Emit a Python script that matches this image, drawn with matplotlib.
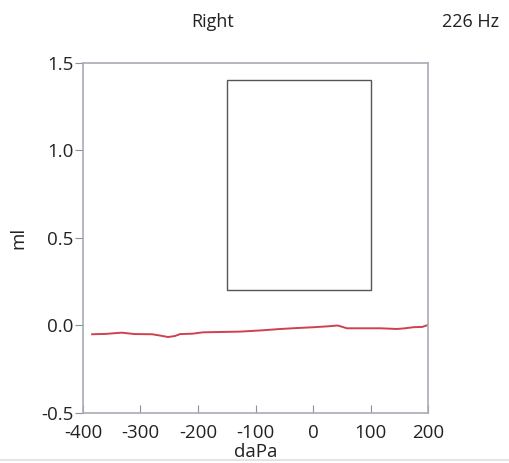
import numpy as np
import matplotlib

matplotlib.use('Agg')
import matplotlib.pyplot as plt
from matplotlib.patches import Rectangle

plt.rcParams['font.family'] = ['Open Sans', 'DejaVu Sans']
plt.rcParams['axes.unicode_minus'] = False

# tympanogram curve
pressure = [-384, -360, -333, -310, -280, -265, -252, -240, -231, -210, -191, -160,
            -127, -90, -57, -30, 0, 25, 43, 59, 90, 117, 146, 160, 174, 190, 200]
volume = [-0.050, -0.048, -0.041, -0.049, -0.050, -0.058, -0.066, -0.060, -0.049, -0.047,
          -0.039, -0.037, -0.035, -0.028, -0.020, -0.015, -0.010, -0.005, 0.000, -0.016,
          -0.016, -0.016, -0.020, -0.016, -0.010, -0.008, 0.003]

# normal region box
box_x = [-150, 100]
box_y = [0.2, 1.4]

x_ticks = [-400, -300, -200, -100, 0, 100, 200]
y_ticks = [-0.5, 0.0, 0.5, 1.0, 1.5]

fig = plt.figure(figsize=(5.09, 4.63), dpi=100)
ax = fig.add_axes([0.163, 0.108, 0.678, 0.756])

ax.plot(pressure, volume, color='#d0404f', linewidth=1.4)
ax.add_patch(Rectangle((box_x[0], box_y[0]), box_x[1] - box_x[0], box_y[1] - box_y[0],
                       fill=False, edgecolor='#555555', linewidth=1.0))

ax.set_xlim(-400, 200)
ax.set_ylim(-0.5, 1.5)
ax.set_xticks(x_ticks)
ax.set_yticks(y_ticks)
ax.set_yticklabels([f"{v:.1f}" for v in y_ticks])

for s in ax.spines.values():
    s.set_color('#a8acb4')
    s.set_linewidth(1.2)

ax.tick_params(axis='x', direction='in', length=6, color='#8890a0', labelsize=13.5,
               labelcolor='#222222', pad=8)
ax.tick_params(axis='y', direction='out', length=6, color='#8890a0', labelsize=13.5,
               labelcolor='#222222', pad=1)

ax.set_xlabel("daPa", fontsize=13.5, color='#222222', labelpad=1)
ax.set_ylabel("ml", fontsize=13.5, color='#222222', labelpad=10)

fig.text(0.417, 0.952, "Right", ha='center', va='center', fontsize=13, color='#222222')
fig.text(0.925, 0.952, "226 Hz", ha='center', va='center', fontsize=13, color='#222222')

# thin grey rule along the bottom edge, as in the screenshot
fig.add_artist(plt.Line2D([0, 1], [0.006, 0.006], transform=fig.transFigure,
                          color='#e4e4e4', linewidth=1.5))

fig.savefig('out.png', dpi=100)
